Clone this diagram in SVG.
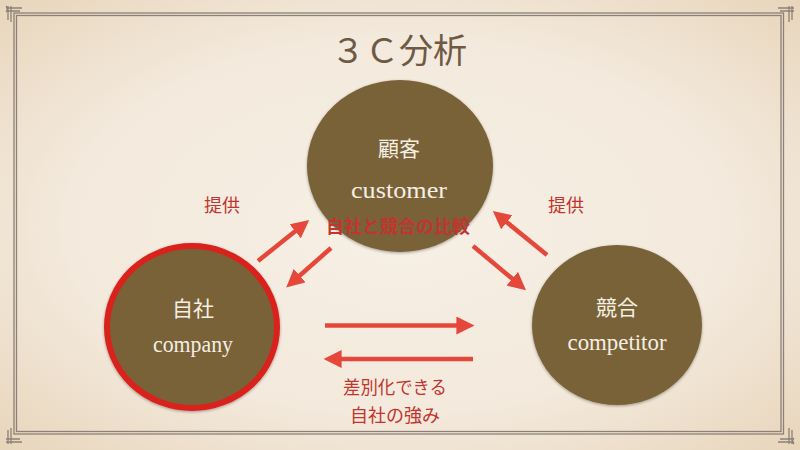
<svg xmlns="http://www.w3.org/2000/svg" width="800" height="450" viewBox="0 0 800 450">
<defs>
<radialGradient id="bg" cx="50%" cy="50%" r="70%">
<stop offset="0" stop-color="#f7f0e6"/>
<stop offset="0.6" stop-color="#f3e9dc"/>
<stop offset="1" stop-color="#e8d6bc"/>
</radialGradient>
<marker id="ah" viewBox="0 0 10 10" refX="2" refY="5" markerWidth="4" markerHeight="4" orient="auto" markerUnits="strokeWidth">
<path d="M0,0 L10,5 L0,10 z" fill="#e5483b"/>
</marker>
<filter id="sh" x="-10%" y="-10%" width="120%" height="120%">
<feGaussianBlur in="SourceAlpha" stdDeviation="1.5"/>
<feOffset dx="0" dy="1"/>
<feComponentTransfer><feFuncA type="linear" slope="0.35"/></feComponentTransfer>
<feMerge><feMergeNode/><feMergeNode in="SourceGraphic"/></feMerge>
</filter>
</defs>
<style>
.node{fill:#7a6238;filter:url(#sh)}
.jp{font-family:"Noto Sans CJK JP",sans-serif;fill:#f4efe4;font-size:21px;text-anchor:middle}
.en{font-family:"Liberation Serif","DejaVu Serif",serif;fill:#f4efe4;font-size:24px;text-anchor:middle}
.lbl{font-family:"Noto Sans CJK JP",sans-serif;fill:#c0352d;font-size:18px;text-anchor:middle}
.con{stroke:#e5483b;stroke-width:4.5;fill:none;marker-end:url(#ah)}
.frame{stroke:#8c8178;stroke-width:1.3;fill:none}
</style>
<rect width="800" height="450" fill="url(#bg)"/>
<g id="frame">
<rect class="frame" x="14" y="13" width="769.5" height="421"/>
<rect class="frame" x="16.5" y="15.5" width="764.5" height="416"/>
<path class="frame" d="M6,8 h16 M6,11 h14 M8,6 v14 M11,6 v16 M6,6 q3,3 0,6"/>
<path class="frame" d="M794,442 h-16 M794,439 h-14 M792,444 v-14 M789,444 v-16 M794,444 q-3,-3 0,-6"/>
<path class="frame" d="M794,8 h-16 M794,11 h-14 M792,6 v14 M789,6 v16"/>
<path class="frame" d="M6,442 h16 M6,439 h14 M8,444 v-14 M11,444 v-16"/>
</g>
<text x="399" y="63" font-family="Noto Sans CJK JP,sans-serif" font-size="34" font-weight="400" fill="#6e5a44" text-anchor="middle">３Ｃ分析</text>
<g id="customer">
<ellipse class="node" cx="400" cy="166" rx="93" ry="86"/>
<text class="jp" x="399" y="156" font-size="24">顧客</text>
<text class="en" x="399" y="198" textLength="96" lengthAdjust="spacingAndGlyphs">customer</text>
</g>
<g id="company">
<ellipse class="node" cx="192" cy="327" rx="85" ry="81" stroke="#d9201c" stroke-width="6"/>
<text class="jp" x="193" y="316" font-size="20">自社</text>
<text class="en" x="193" y="352" textLength="80" lengthAdjust="spacingAndGlyphs">company</text>
</g>
<g id="competitor">
<ellipse class="node" cx="617" cy="325" rx="85" ry="80"/>
<text class="jp" x="617" y="315">競合</text>
<text class="en" x="617" y="350" textLength="99" lengthAdjust="spacingAndGlyphs">competitor</text>
</g>
<g id="connectors">
<line class="con" x1="258" y1="261" x2="298" y2="229"/>
<line class="con" x1="331" y1="248" x2="297" y2="278"/>
<line class="con" x1="547" y1="255" x2="504" y2="220"/>
<line class="con" x1="473" y1="246" x2="515" y2="281"/>
<line class="con" x1="325" y1="325.5" x2="460" y2="325.5"/>
<line class="con" x1="473" y1="359" x2="338" y2="359"/>
</g>
<g id="labels">
<text class="lbl" x="398" y="233" font-weight="bold" textLength="144" lengthAdjust="spacingAndGlyphs">自社と競合の比較</text>
<text class="lbl" x="222" y="212" font-size="19">提供</text>
<text class="lbl" x="566" y="212" font-size="19">提供</text>
<text class="lbl" x="395" y="394" textLength="104" lengthAdjust="spacingAndGlyphs">差別化できる</text>
<text class="lbl" x="395" y="422">自社の強み</text>
</g>
</svg>
